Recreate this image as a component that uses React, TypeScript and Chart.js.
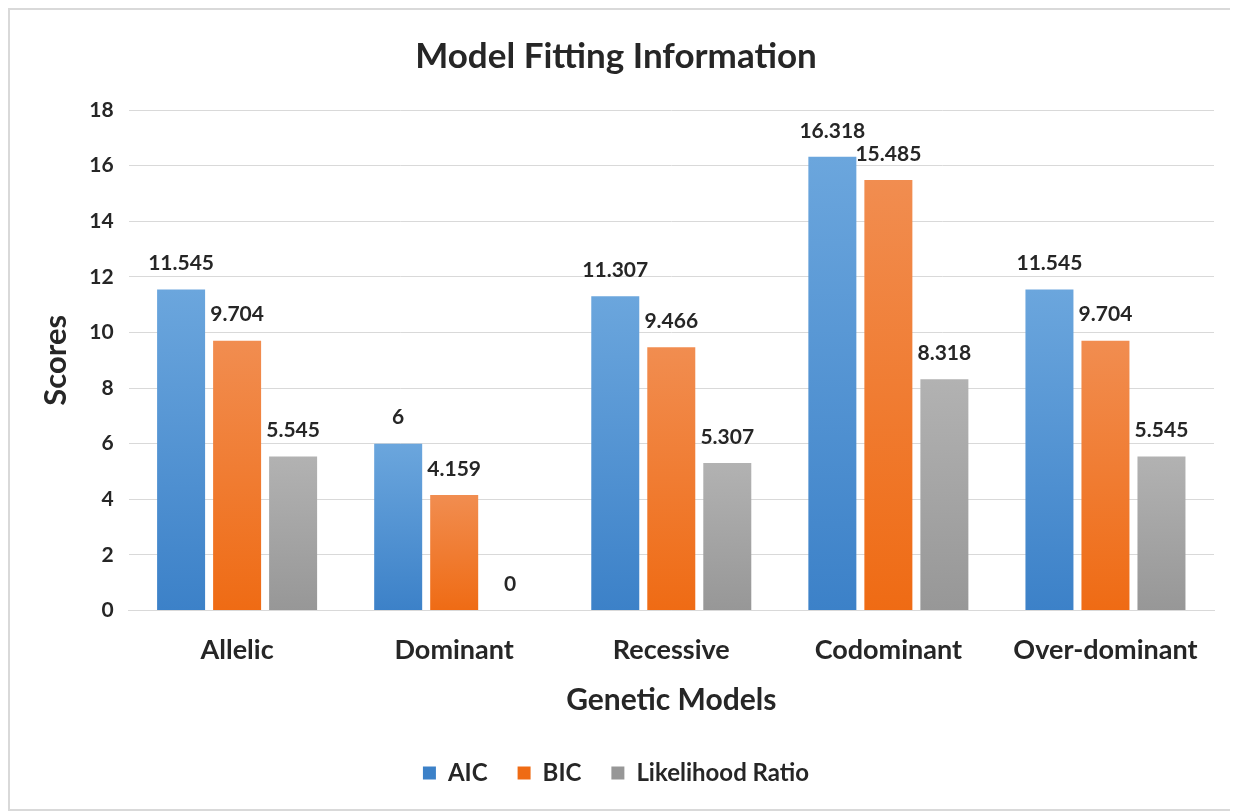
import React, { useEffect, useRef } from "react";
import { Chart, registerables } from "chart.js";

Chart.register(...registerables);

const categories = ["Allelic", "Dominant", "Recessive", "Codominant", "Over-dominant"];
const aicValues = [11.545, 6, 11.307, 16.318, 11.545];
const bicValues = [9.704, 4.159, 9.466, 15.485, 9.704];
const likelihoodValues = [5.545, 0, 5.307, 8.318, 5.545];
const yTicks = [0, 2, 4, 6, 8, 10, 12, 14, 16, 18];

const FONT = "Lato, 'Open Sans', sans-serif";
const TEXT = "#262626";

// vertical gradient per bar: lighter at the top, deeper at the base
function barFill(top: string, bottom: string) {
  return (ctx: any) => {
    const chart = ctx.chart;
    if (ctx.type !== "data" || !chart.chartArea) return bottom;
    const y = chart.scales.y;
    const yTop = y.getPixelForValue(ctx.raw as number);
    const yBase = y.getPixelForValue(0);
    if (Math.abs(yBase - yTop) < 1) return bottom;
    const g = chart.ctx.createLinearGradient(0, yTop, 0, yBase);
    g.addColorStop(0, top);
    g.addColorStop(1, bottom);
    return g;
  };
}

// value printed above every bar
const valueLabels = {
  id: "valueLabels",
  afterDatasetsDraw(chart: any) {
    const { ctx } = chart;
    ctx.save();
    ctx.font = `bold 21px ${FONT}`;
    ctx.fillStyle = TEXT;
    ctx.textAlign = "center";
    ctx.textBaseline = "middle";
    chart.data.datasets.forEach((ds: any, i: number) => {
      const meta = chart.getDatasetMeta(i);
      meta.data.forEach((bar: any, j: number) => {
        ctx.fillText(String(ds.data[j]), bar.x, bar.y - 26);
      });
    });
    ctx.restore();
  },
};

export default function App() {
  const canvasRef = useRef<HTMLCanvasElement | null>(null);

  useEffect(() => {
    if (!canvasRef.current) return;
    const chart = new Chart(canvasRef.current, {
      type: "bar",
      data: {
        labels: categories,
        datasets: [
          {
            label: "AIC",
            data: aicValues,
            backgroundColor: barFill("#6ba6dd", "#3c81c8"),
            categoryPercentage: 0.774,
            barPercentage: 0.857,
          },
          {
            label: "BIC",
            data: bicValues,
            backgroundColor: barFill("#f18d50", "#ef6b14"),
            categoryPercentage: 0.774,
            barPercentage: 0.857,
          },
          {
            label: "Likelihood Ratio",
            data: likelihoodValues,
            backgroundColor: barFill("#b2b2b2", "#979797"),
            categoryPercentage: 0.774,
            barPercentage: 0.857,
          },
        ],
      },
      options: {
        responsive: true,
        maintainAspectRatio: false,
        animation: false,
        layout: { padding: { left: 8, right: 18, top: 0, bottom: 14 } },
        plugins: {
          title: {
            display: true,
            text: "Model Fitting Information",
            color: TEXT,
            font: { family: FONT, size: 35, weight: "bold" },
            padding: { top: 26, bottom: 32 },
          },
          legend: {
            position: "bottom",
            labels: {
              color: TEXT,
              font: { family: FONT, size: 24, weight: "bold" },
              boxWidth: 13,
              boxHeight: 13,
              padding: 30,
            },
          },
          tooltip: { enabled: false },
        },
        scales: {
          x: {
            grid: { display: false, drawTicks: false },
            border: { display: true, color: "#d9d9d9", width: 1 },
            ticks: {
              color: TEXT,
              padding: 23,
              font: { family: FONT, size: 27, weight: "bold" },
            },
            title: {
              display: true,
              text: "Genetic Models",
              color: TEXT,
              font: { family: FONT, size: 30, weight: "bold" },
              padding: { top: -7, bottom: 13 },
            },
          },
          y: {
            min: 0,
            max: 18,
            afterBuildTicks: (axis: any) => {
              axis.ticks = yTicks.map((v) => ({ value: v }));
            },
            grid: { color: "#d9d9d9", drawTicks: false, lineWidth: 1 },
            border: { display: false },
            ticks: {
              color: TEXT,
              padding: 15,
              font: { family: FONT, size: 21, weight: "bold" },
            },
            title: {
              display: true,
              text: "Scores",
              color: TEXT,
              font: { family: FONT, size: 31, weight: "bold" },
              padding: { top: 19, bottom: 0 },
            },
          },
        },
      },
      plugins: [valueLabels],
    });
    return () => chart.destroy();
  }, []);

  return (
    <div
      style={{
        width: 1222,
        height: 799,
        border: "2px solid #d9d9d9",
        position: "relative",
        background: "#ffffff",
      }}
    >
      <canvas ref={canvasRef} />
    </div>
  );
}
